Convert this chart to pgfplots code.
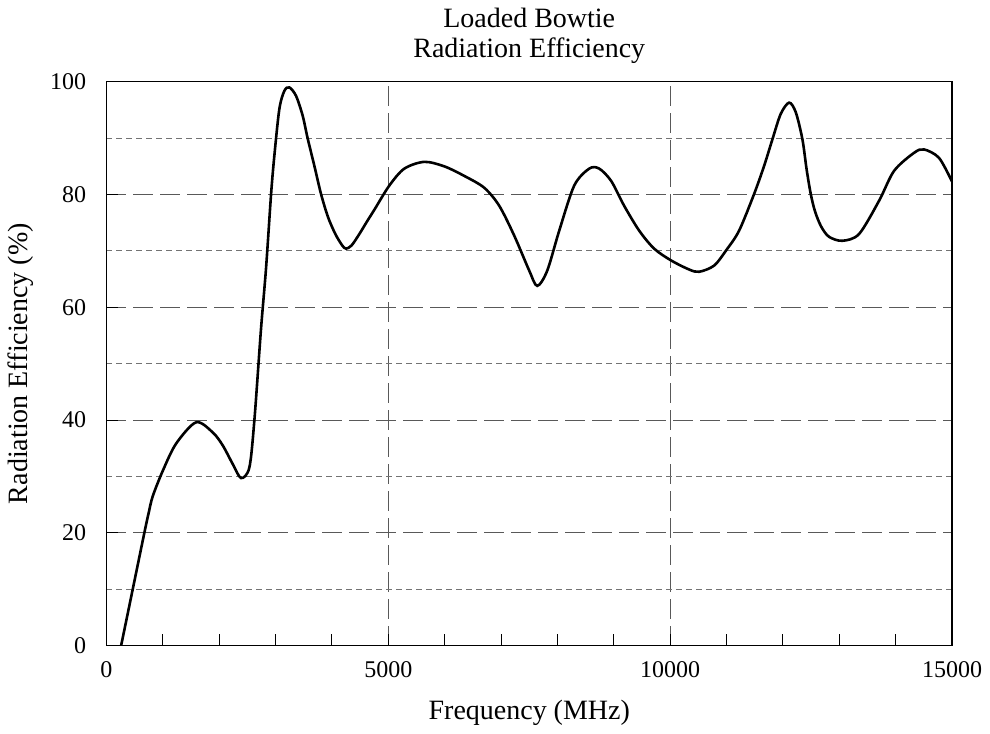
\documentclass[border=0pt,12pt]{standalone}
\usepackage{fontspec}
\setmainfont{Liberation Serif}
\usepackage{pgfplots}
\pgfplotsset{compat=1.18}

\begin{document}
\begin{tikzpicture}
\begin{axis}[
  scale only axis,
  width=423pt, height=282pt,
  xmin=0, xmax=15000, ymin=0, ymax=100,
  xtick={0,5000,10000,15000},
  minor xtick={1000,2000,3000,4000,6000,7000,8000,9000,11000,12000,13000,14000},
  ytick={0,20,40,60,80,100},
  minor ytick={10,30,50,70,90},
  tick align=inside,
  major tick length=6pt, minor tick length=6pt,
  xtick pos=bottom, ytick pos=left,
  minor y tick style={draw=none},
  xmajorgrids=true, ymajorgrids=true,
  xminorgrids=false, yminorgrids=true,
  major grid style={black!65, line width=0.5pt, dash pattern=on 10pt off 3.5pt},
  minor grid style={black!55, line width=0.5pt, dash pattern=on 3pt off 2pt},
  axis line style={black, line width=0.6pt},
  tick style={black, line width=0.5pt},
  scaled x ticks=false,
  /pgf/number format/assume math mode=true,
  xticklabel style={/pgf/number format/1000 sep={}, yshift=-4pt},
  yticklabel style={xshift=-6pt},
  title={Loaded Bowtie\\Radiation Efficiency},
  title style={align=center, font=\fontsize{14}{15}\selectfont, yshift=-1pt},
  xlabel={Frequency (MHz)},
  ylabel={Radiation Efficiency (\%)},
  label style={font=\fontsize{14}{16}\selectfont},
  xlabel style={yshift=-3pt},
  ylabel style={yshift=0pt},
]
\addplot [black, line width=1.3pt, smooth, tension=0.5] coordinates {
(260,0) (466,10) (674,20.1) (750,23.6) (821,26.5) (999,31) (1234,35.8)
(1590,39.6) (1885,37.8) (2062,35.5) (2239,32.2) (2388,29.7) (2535,31.6)
(2624,40) (2740,56) (2831,67) (2920,80.1) (2979,87) (3067,95.2)
(3156,98.4) (3245,99) (3363,97.5) (3480,94) (3568,90) (3690,85)
(3806,80.1) (3930,76) (4060,73) (4180,71) (4250,70.4) (4350,71)
(4486,73) (4620,75.2) (4752,77.3) (5018,81.6)
(5284,84.6) (5638,85.8) (5993,85) (6348,83.3) (6702,81.2) (6968,78)
(7234,72.7) (7500,66.5) (7642,63.8) (7819,66.5) (8032,73.6) (8298,81.6)
(8564,84.6) (8741,84.6) (8954,82.4) (9184,78) (9450,73.6) (9716,70.4)
(10018,68.3) (10337,66.7) (10514,66.3) (10780,67.4) (11000,70.2)
(11223,73.6) (11489,80.1) (11667,85.1) (11814,89.8) (11961,94.3)
(12110,96.3) (12228,94.6) (12346,89.8) (12420,84.5) (12494,80.1)
(12570,77) (12680,74.3) (12819,72.5) (13055,71.8) (13351,73)
(13706,78.9) (13972,84.2)
(14326,87.4) (14504,88) (14770,86.5) (15000,82.3)
};
\end{axis}
\end{tikzpicture}
\end{document}
